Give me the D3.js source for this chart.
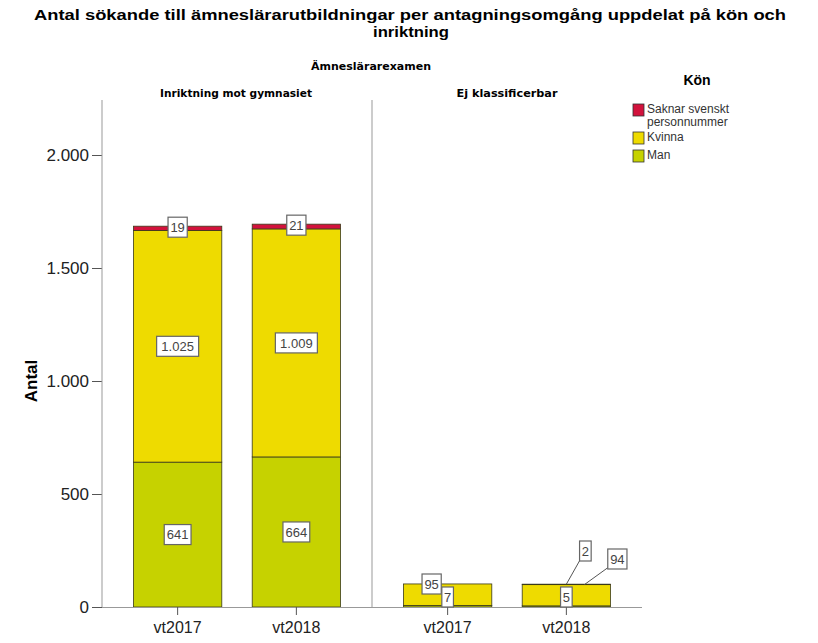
<!DOCTYPE html>
<html><head><meta charset="utf-8">
<script src="https://cdn.jsdelivr.net/npm/d3@7"></script>
<style>body{margin:0;background:#fff}svg{font-family:Arial,"Liberation Sans",sans-serif}</style>
</head><body><svg id="c" width="818" height="643"></svg>
<script>
const panels = ["Inriktning mot gymnasiet", "Ej klassificerbar"];
const periods = ["vt2017", "vt2018"];
const genders = ["Man", "Kvinna", "Saknar svenskt personnummer"];
// values per panel, per period
const manValues = [[641, 664], [7, 5]];
const kvinnaValues = [[1025, 1009], [95, 94]];
const saknarValues = [[19, 21], [0, 2]];
const yTicks = [0, 500, 1000, 1500, 2000];
const colors = {"Man": "#c6d200", "Kvinna": "#eedb00", "Saknar svenskt personnummer": "#d2123c"};

const svg = d3.select("#c");
const y = d3.scaleLinear().domain([0, 2000]).range([607, 155]);
const panelX = d3.scaleBand().domain(panels).range([102, 642]);
const fmt = v => d3.format(",")(v).replace(/,/g, ".");

// titles
svg.append("text").attr("x", 410).attr("y", 20).attr("text-anchor", "middle")
  .attr("font-size", 14.5).attr("font-weight", "bold")
  .attr("textLength", 752).attr("lengthAdjust", "spacingAndGlyphs")
  .text("Antal sökande till ämneslärarutbildningar per antagningsomgång uppdelat på kön och");
svg.append("text").attr("x", 411).attr("y", 37).attr("text-anchor", "middle")
  .attr("font-size", 14.5).attr("font-weight", "bold")
  .attr("textLength", 76).attr("lengthAdjust", "spacingAndGlyphs").text("inriktning");
svg.append("text").attr("x", 371).attr("y", 70).attr("text-anchor", "middle")
  .attr("font-family", "DejaVu Sans").attr("font-size", 11).attr("font-weight", "bold")
  .attr("textLength", 120).attr("lengthAdjust", "spacingAndGlyphs").text("Ämneslärarexamen");

// y axis
const yAxis = svg.append("g").attr("transform", "translate(102,0)")
  .call(d3.axisLeft(y).tickValues(yTicks).tickFormat(fmt).tickSize(10).tickSizeOuter(0));
yAxis.select(".domain").remove();
yAxis.selectAll("line").attr("stroke", "#555");
yAxis.selectAll("text").attr("font-size", 17).attr("fill", "#222").attr("dy", "0.35em").attr("x", -13);
svg.append("line").attr("x1", 102).attr("x2", 102).attr("y1", 100).attr("y2", 607).attr("stroke", "#999");
svg.append("text").attr("transform", "translate(37,381) rotate(-90)").attr("text-anchor", "middle")
  .attr("font-size", 17).attr("font-weight", "bold").text("Antal");

// panels
const stack = d3.stack().keys(genders);
const headerLen = [152, 101];
panels.forEach((p, pi) => {
  const px = panelX(p), pw = panelX.bandwidth();
  const x = d3.scaleBand().domain(periods).range([px, px + pw]).paddingInner(0.256).paddingOuter(0.265);
  svg.append("text").attr("x", px + pw / 2 + (pi === 0 ? -1 : 0)).attr("y", 97).attr("text-anchor", "middle")
    .attr("font-family", "DejaVu Sans").attr("font-size", 11).attr("font-weight", "bold")
    .attr("textLength", headerLen[pi]).attr("lengthAdjust", "spacingAndGlyphs").text(p);
  if (pi > 0) svg.append("line").attr("x1", px).attr("x2", px).attr("y1", 100).attr("y2", 607).attr("stroke", "#999");
  const rows = periods.map((per, i) => ({
    period: per, "Man": manValues[pi][i], "Kvinna": kvinnaValues[pi][i],
    "Saknar svenskt personnummer": saknarValues[pi][i]}));
  const series = stack(rows);
  series.forEach(s => {
    svg.append("g").selectAll("rect").data(s).join("rect")
      .attr("x", d => x(d.data.period)).attr("width", x.bandwidth())
      .attr("y", d => y(d[1])).attr("height", d => y(d[0]) - y(d[1]))
      .attr("fill", colors[s.key]).attr("stroke", "#3a3a1a").attr("stroke-width", 0.8);
  });
  // x axis
  const xa = svg.append("g").attr("transform", "translate(0,607)")
    .call(d3.axisBottom(x).tickSize(8).tickSizeOuter(0));
  xa.select(".domain").attr("stroke", "#999").attr("d", `M${px},0.5H${px + pw}`);
  xa.selectAll("line").attr("stroke", "#555");
  xa.selectAll("text").attr("font-size", 16).attr("fill", "#222").attr("dy", "0.95em");

  // labels
  series.forEach((s, si) => {
    s.forEach((d, i) => {
      const v = d[1] - d[0];
      if (v <= 0) return;
      const cx = x(d.data.period) + x.bandwidth() / 2;
      let lx = cx, ly = (y(d[0]) + y(d[1])) / 2, ax = null, ay = null;
      if (pi === 0 && si === 2) ly = y(d[1]) + 1;
      if (pi === 1) {
        if (si === 0) ly = 597;
        if (si === 1 && i === 0) { lx = cx - 16; ly = 584; }
        if (si === 1 && i === 1) { lx = cx + 51; ly = 559; ax = cx + 18; ay = y(d[1]); }
        if (si === 2) { lx = cx + 19; ly = 551; ax = cx; ay = y(d[1]); }
      }
      const t = fmt(v);
      const w = t.length * 7.6 + 4, h = 20;
      if (ax !== null) svg.append("line").attr("x1", ax).attr("y1", ay).attr("x2", lx - w / 2 + 1).attr("y2", ly + h / 2 - 2)
        .attr("stroke", "#555").attr("stroke-width", 1);
      svg.append("rect").attr("x", lx - w / 2).attr("y", ly - h / 2).attr("width", w).attr("height", h)
        .attr("fill", "#fff").attr("stroke", "#666").attr("stroke-width", 1.2);
      svg.append("text").attr("x", lx).attr("y", ly).attr("dy", "0.36em").attr("text-anchor", "middle")
        .attr("font-size", 13).attr("fill", "#444").text(t);
    });
  });
});

// legend
svg.append("text").attr("x", 697).attr("y", 85).attr("text-anchor", "middle")
  .attr("font-size", 14).attr("font-weight", "bold").text("Kön");
const legItems = [
  {key: "Saknar svenskt personnummer", lines: ["Saknar svenskt", "personnummer"], y: 104},
  {key: "Kvinna", lines: ["Kvinna"], y: 132},
  {key: "Man", lines: ["Man"], y: 150}];
legItems.forEach(it => {
  svg.append("rect").attr("x", 633).attr("y", it.y).attr("width", 11).attr("height", 12)
    .attr("fill", colors[it.key]).attr("stroke", "#333").attr("stroke-width", 0.8);
  it.lines.forEach((l, j) => svg.append("text").attr("x", 647).attr("y", it.y + 9 + j * 13)
    .attr("font-size", 12).attr("fill", "#333").text(l));
});
</script></body></html>
